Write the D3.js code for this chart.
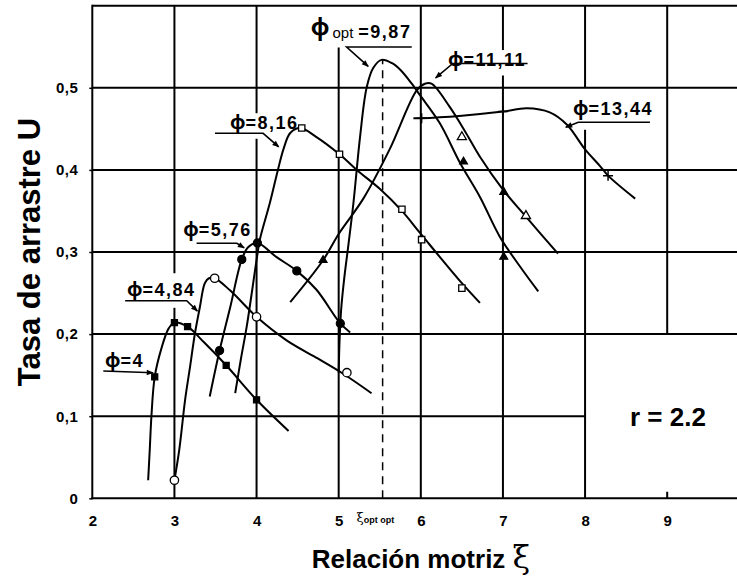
<!DOCTYPE html>
<html>
<head>
<meta charset="utf-8">
<script src="https://cdn.jsdelivr.net/npm/d3@7"></script>
<style>
  html, body { margin: 0; padding: 0; background: #fff; }
  svg { display: block; }
</style>
</head>
<body>
<svg id="chart" width="737" height="584"></svg>
<script>
// Axis ticks
const xTicks = [2, 3, 4, 5, 6, 7, 8, 9];
const yTicks = [0, 0.1, 0.2, 0.3, 0.4, 0.5];

// Curves: [relación motriz ξ, tasa de arrastre U]
const curvePhi4 = [[2.68,0.022],[2.70,0.06],[2.72,0.10],[2.76,0.148],[2.84,0.182],[2.93,0.207],[3.0,0.214],[3.16,0.209],[3.36,0.19],[3.63,0.162],[4.0,0.12],[4.39,0.082]];
const curvePhi484 = [[3.0,0.022],[3.06,0.06],[3.13,0.12],[3.19,0.16],[3.25,0.201],[3.31,0.233],[3.37,0.262],[3.42,0.268],[3.49,0.268],[3.68,0.253],[4.0,0.221],[4.37,0.192],[4.75,0.17],[5.05,0.152],[5.40,0.128]];
const curvePhi576 = [[3.43,0.124],[3.55,0.18],[3.68,0.233],[3.82,0.291],[3.90,0.306],[4.01,0.311],[4.24,0.294],[4.49,0.277],[4.73,0.254],[5.02,0.213],[5.14,0.202]];
const curvePhi816 = [[3.74,0.128],[3.81,0.17],[3.88,0.209],[4.0,0.29],[4.04,0.315],[4.16,0.359],[4.26,0.40],[4.33,0.426],[4.41,0.445],[4.53,0.451],[4.73,0.44],[5.01,0.419],[5.22,0.40],[5.5,0.377],[5.77,0.35],[6.0,0.322],[6.5,0.262],[6.72,0.238]];
const curvePhi987 = [[5.0,0.153],[5.01,0.19],[5.03,0.23],[5.07,0.27],[5.12,0.31],[5.18,0.36],[5.26,0.44],[5.34,0.50],[5.42,0.524],[5.52,0.534],[5.65,0.53],[5.75,0.522],[5.89,0.505],[5.99,0.491],[6.23,0.457],[6.48,0.408],[6.72,0.367],[6.96,0.319],[7.21,0.282],[7.43,0.252]];
const curvePhi1111 = [[4.41,0.239],[4.81,0.29],[5.0,0.322],[5.3,0.365],[5.62,0.425],[5.95,0.497],[6.05,0.505],[6.13,0.505],[6.35,0.477],[6.55,0.445],[6.72,0.416],[7.0,0.376],[7.28,0.343],[7.67,0.298]];
const curvePhi1344 = [[5.91,0.463],[6.01,0.463],[6.5,0.466],[7.0,0.471],[7.29,0.475],[7.57,0.47],[7.78,0.455],[8.0,0.425],[8.18,0.405],[8.28,0.393],[8.61,0.365]];

// Measured points on each curve
const pointsPhi4 = [[2.76,0.148],[3.0,0.214],[3.16,0.209],[3.63,0.162],[4.0,0.12]];
const pointsPhi484 = [[3.0,0.022],[3.49,0.268],[4.0,0.221],[5.1,0.153]];
const pointsPhi576 = [[3.55,0.18],[3.82,0.291],[4.01,0.311],[4.49,0.277],[5.02,0.213]];
const pointsPhi816 = [[4.55,0.451],[5.01,0.419],[5.77,0.352],[6.01,0.315],[6.5,0.256]];
const pointsPhi987 = [[6.52,0.41],[7.01,0.294]];
const pointsPhi1111Open = [[6.5,0.44],[7.28,0.344]];
const pointsPhi1111Solid = [[4.81,0.29],[7.01,0.373]];
const pointsPhi1344 = [[6.01,0.463],[7.0,0.471],[8.28,0.393]];

// Curve labels: value of ϕ, text anchor and leader polyline (data units)
const phiLabels = ["4", "4,84", "5,76", "8,16", "9,87", "11,11", "13,44"];
const labelAnchors = [[2.156,0.16],[2.422,0.2466],[3.107,0.3194],[3.676,0.4498],[4.66,0.5609],[6.33,0.5266],[7.852,0.4674]];
const leaderPaths = [
  [[2.134,0.155],[2.74,0.153]],
  [[2.40,0.2407],[3.15,0.2407],[3.28,0.228]],
  [[3.27,0.3106],[3.76,0.3106],[3.85,0.305]],
  [[3.494,0.4446],[4.08,0.4446],[4.27,0.428]],
  [[5.89,0.5497],[5.097,0.5497],[5.36,0.526]],
  [[7.30,0.5296],[6.39,0.5296],[6.18,0.512]],
  [[8.79,0.458],[7.917,0.458],[7.765,0.452]]
];

// Optimum relación motriz
const xiOpt = 5.535;
const uOpt = 0.534;

// Grid segments (data units)
const vGrid = [
  [3, [[0,0.232],[0.274,0.6]]],
  [4, [[0,0.438],[0.469,0.6]]],
  [5, [[0,0.549]]],
  [6, [[0,0.6]]],
  [7, [[0,0.515],[0.546,0.6]]],
  [8, [[0,0.449],[0.5,0.6]]],
  [9, [[0.2,0.6],[0,0.008]]]
];
const hGrid = [
  [0.1, [2, 8]],
  [0.2, [2, 9.85]],
  [0.3, [2, 9.85]],
  [0.4, [2, 9.85]],
  [0.5, [2, 9.85]],
  [0.6, [2, 9.85]]
];

const svg = d3.select("#chart");
const x = d3.scaleLinear().domain([2, 9.85]).range([92.3, 737]);
const y = d3.scaleLinear().domain([0, 0.6]).range([498.3, 5.7]);

const ink = "#000";
const sans = "'Liberation Sans', Arial, sans-serif";
const phiFont = "'Noto Sans', 'DejaVu Sans', sans-serif";

svg.append("defs").append("marker")
  .attr("id", "arrow")
  .attr("viewBox", "0 0 10 10")
  .attr("refX", 9).attr("refY", 5)
  .attr("markerWidth", 9).attr("markerHeight", 7)
  .attr("markerUnits", "userSpaceOnUse")
  .attr("orient", "auto")
  .append("path").attr("d", "M0,1 L10,5 L0,9 Z").attr("fill", ink);

// Grid
const grid = svg.append("g").attr("stroke", ink).attr("stroke-width", 2);
vGrid.forEach(([xv, spans]) => spans.forEach(([a, b]) => {
  grid.append("line").attr("x1", x(xv)).attr("x2", x(xv)).attr("y1", y(a)).attr("y2", y(b));
}));
hGrid.forEach(([yv, [a, b]]) => {
  grid.append("line").attr("x1", x(a)).attr("x2", x(b)).attr("y1", y(yv)).attr("y2", y(yv));
});
// Frame: left and bottom axes
grid.append("line").attr("x1", x(2)).attr("x2", x(2)).attr("y1", y(0) + 1).attr("y2", y(0.6) - 1);
grid.append("line").attr("x1", x(2) - 1).attr("x2", x(9.85)).attr("y1", y(0)).attr("y2", y(0));

// Axes
const xAxis = svg.append("g").attr("transform", `translate(0,${y(0)})`)
  .call(d3.axisBottom(x).tickValues(xTicks).tickSize(0).tickPadding(17).tickFormat(d3.format("d")));
xAxis.select(".domain").remove();
xAxis.selectAll("text").attr("font-family", sans).attr("font-weight", "bold").attr("font-size", 15).attr("fill", ink);

const yAxis = svg.append("g").attr("transform", `translate(${x(2)},0)`)
  .call(d3.axisLeft(y).tickValues(yTicks).tickSizeInner(3).tickSizeOuter(0).tickPadding(11)
    .tickFormat(d => d === 0 ? "0" : d3.format(".1f")(d).replace(".", ",")));
yAxis.select(".domain").remove();
yAxis.selectAll("line").attr("stroke", ink).attr("stroke-width", 1.5);
yAxis.selectAll("text").attr("font-family", sans).attr("font-weight", "bold").attr("font-size", 15)
  .attr("letter-spacing", 0.5).attr("fill", ink);

// Dashed optimum line
svg.append("line")
  .attr("x1", x(xiOpt)).attr("x2", x(xiOpt)).attr("y1", y(0)).attr("y2", y(uOpt))
  .attr("stroke", ink).attr("stroke-width", 1.5).attr("stroke-dasharray", "8,6");
const xiLab = svg.append("text").attr("x", x(xiOpt) - 26).attr("y", y(0) + 24)
  .attr("font-family", sans).attr("fill", ink);
xiLab.append("tspan").attr("font-size", 13).attr("font-family", "'DejaVu Serif', serif").text("ξ");
xiLab.append("tspan").attr("font-size", 9).attr("font-weight", "bold").attr("dy", 1).text("opt opt");

// Curves
const line = d3.line().x(d => x(d[0])).y(d => y(d[1])).curve(d3.curveCatmullRom.alpha(0.5));
[curvePhi4, curvePhi484, curvePhi576, curvePhi816, curvePhi987, curvePhi1111, curvePhi1344].forEach(c => {
  svg.append("path").datum(c).attr("d", line)
    .attr("fill", "none").attr("stroke", ink).attr("stroke-width", 2);
});

// Point markers
function drawPoints(pts, type, size, filled) {
  svg.append("g").selectAll("path").data(pts).join("path")
    .attr("transform", d => `translate(${x(d[0])},${y(d[1])})`)
    .attr("d", d3.symbol().type(type).size(size))
    .attr("fill", filled ? ink : "#fff")
    .attr("stroke", ink).attr("stroke-width", 1.3);
}
drawPoints(pointsPhi4, d3.symbolSquare, 36, true);
drawPoints(pointsPhi484, d3.symbolCircle, 55, false);
drawPoints(pointsPhi576, d3.symbolCircle, 50, true);
drawPoints(pointsPhi816, d3.symbolSquare, 40, false);
drawPoints(pointsPhi987, d3.symbolTriangle, 26, true);
drawPoints(pointsPhi1111Open, d3.symbolTriangle, 36, false);
drawPoints(pointsPhi1111Solid, d3.symbolTriangle, 26, true);
svg.append("g").selectAll("path").data(pointsPhi1344).join("path")
  .attr("transform", d => `translate(${x(d[0])},${y(d[1])})`)
  .attr("d", "M-5,0H5M0,-5V5")
  .attr("fill", "none").attr("stroke", ink).attr("stroke-width", 1.5);

// Leaders
const leader = d3.line().x(d => x(d[0])).y(d => y(d[1]));
leaderPaths.forEach(p => {
  svg.append("path").datum(p).attr("d", leader)
    .attr("fill", "none").attr("stroke", ink).attr("stroke-width", 1.6)
    .attr("marker-end", "url(#arrow)");
});

// Curve labels
phiLabels.forEach((v, i) => {
  const [ax, ay] = labelAnchors[i];
  const t = svg.append("text").attr("x", x(ax)).attr("y", y(ay))
    .attr("font-family", sans).attr("font-weight", "bold").attr("fill", ink);
  if (v === "9,87") {
    t.append("tspan").attr("font-family", phiFont).attr("font-size", 23).attr("dy", -3).attr("fill", ink).text("ϕ");
    t.append("tspan").attr("font-size", 15).attr("font-weight", "normal").attr("dy", 3).attr("dx", 3).text("opt");
    t.append("tspan").attr("font-size", 18).attr("letter-spacing", 1.5).attr("dx", 5).text("=" + v);
  } else {
    t.append("tspan").attr("font-family", phiFont).attr("font-size", 19).attr("fill", ink).text("ϕ");
    t.append("tspan").attr("font-size", 18).attr("letter-spacing", 1.5).text("=" + v);
  }
});

// Parameter note
svg.append("text").attr("x", 630).attr("y", y(0.1) + 10)
  .attr("font-family", sans).attr("font-weight", "bold").attr("font-size", 26).attr("fill", ink)
  .text("r = 2.2");

// Axis titles
const xTitle = svg.append("text").attr("x", 421).attr("y", 568).attr("text-anchor", "middle")
  .attr("font-family", sans).attr("font-weight", "bold").attr("font-size", 26).attr("fill", ink);
xTitle.append("tspan").text("Relación motriz ");
xTitle.append("tspan").attr("font-family", "'DejaVu Serif', serif").attr("font-weight", "normal").attr("font-size", 32).text("ξ");

svg.append("text").attr("transform", "translate(40,252) rotate(-90)").attr("text-anchor", "middle")
  .attr("font-family", sans).attr("font-weight", "bold").attr("font-size", 31).attr("fill", ink)
  .text("Tasa de arrastre U");
</script>
</body>
</html>
